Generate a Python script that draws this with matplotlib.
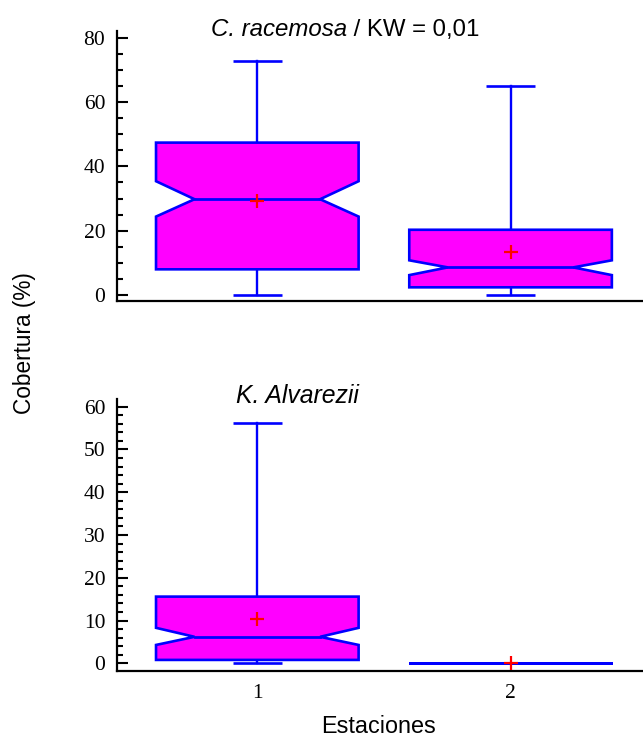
import matplotlib
matplotlib.use("Agg")
import matplotlib.pyplot as plt
from matplotlib.ticker import MultipleLocator

estaciones = [1, 2]
estacion_labels = ["1", "2"]

# C. racemosa: box statistics per station
rac_whislo = [0.0, 0.0]
rac_q1 = [8.0, 2.4]
rac_cilo = [24.4, 6.2]
rac_med = [29.8, 8.6]
rac_cihi = [35.4, 10.8]
rac_q3 = [47.4, 20.3]
rac_whishi = [72.7, 64.9]
rac_mean = [29.2, 13.5]

# K. alvarezii: box statistics per station
alv_whislo = [0.0, 0.0]
alv_q1 = [0.8, 0.0]
alv_cilo = [4.3, 0.0]
alv_med = [6.2, 0.0]
alv_cihi = [8.3, 0.0]
alv_q3 = [15.6, 0.0]
alv_whishi = [56.3, 0.0]
alv_mean = [10.4, 0.0]

BOX_W = 0.80
NOTCH_W = 0.62
CAP_W = 0.195
FILL = "#ff00ff"
EDGE = "#0000ff"
SERIF = "Liberation Serif"
SANS = "Liberation Sans"


def notched_box(ax, pos, whislo, q1, cilo, med, cihi, q3, whishi, mean):
    l, r = pos - BOX_W / 2, pos + BOX_W / 2
    nl, nr = pos - BOX_W * NOTCH_W / 2, pos + BOX_W * NOTCH_W / 2
    xs = [l, r, r, nr, r, r, l, l, nl, l, l]
    ys = [q1, q1, cilo, med, cihi, q3, q3, cihi, med, cilo, q1]
    ax.fill(xs, ys, facecolor=FILL, edgecolor=EDGE, linewidth=1.9, zorder=3)
    ax.plot([nl, nr], [med, med], color=EDGE, lw=2.0, zorder=4)
    # whiskers and caps
    ax.plot([pos, pos], [q3, whishi], color=EDGE, lw=1.7, zorder=2)
    ax.plot([pos, pos], [whislo, q1], color=EDGE, lw=1.7, zorder=2)
    for y in (whislo, whishi):
        ax.plot([pos - CAP_W / 2, pos + CAP_W / 2], [y, y], color=EDGE,
                lw=1.9, zorder=2, solid_capstyle="butt")
    ax.plot(pos, mean, marker="+", color="red", ms=9.5, mew=1.6, zorder=5)


def style_axes(ax, major, minor):
    ax.set_xlim(0.446, 2.523)
    ax.spines["top"].set_visible(False)
    ax.spines["right"].set_visible(False)
    ax.spines["left"].set_linewidth(1.6)
    ax.spines["bottom"].set_linewidth(1.6)
    ax.yaxis.set_major_locator(MultipleLocator(major))
    ax.yaxis.set_minor_locator(MultipleLocator(minor))
    ax.tick_params(axis="y", which="major", direction="in", length=8,
                   width=1.5, pad=8.5, labelsize=15.5)
    ax.tick_params(axis="y", which="minor", direction="in", length=4.3,
                   width=1.5)
    ax.tick_params(axis="x", length=0, pad=9.5, labelsize=15.5)
    ax.set_xticks(estaciones)
    for lab in ax.get_yticklabels() + ax.get_xticklabels():
        lab.set_family(SERIF)


fig = plt.figure(figsize=(6.43, 7.4), dpi=100)
ax1 = fig.add_axes([0.182, 0.5926, 0.818, 0.3659])
ax2 = fig.add_axes([0.182, 0.0936, 0.818, 0.3668])

for i, p in enumerate(estaciones):
    notched_box(ax1, p, rac_whislo[i], rac_q1[i], rac_cilo[i], rac_med[i],
                rac_cihi[i], rac_q3[i], rac_whishi[i], rac_mean[i])
    notched_box(ax2, p, alv_whislo[i], alv_q1[i], alv_cilo[i], alv_med[i],
                alv_cihi[i], alv_q3[i], alv_whishi[i], alv_mean[i])

ax1.set_ylim(-2.0, 82.2)
ax2.set_ylim(-1.73, 61.73)
style_axes(ax1, 20, 5)
style_axes(ax2, 10, 2)
ax1.set_xticklabels([])
ax2.set_xticklabels(estacion_labels)
for lab in ax2.get_xticklabels():
    lab.set_family(SERIF)

# panel titles
t1 = fig.text(211 / 643, 1 - 36 / 740, "C. racemosa", fontsize=17.3,
              family=SANS, style="italic", va="baseline", ha="left")
ax1.annotate(" / KW = 0,01", xy=(1, 0), xycoords=t1, va="bottom",
             ha="left", fontsize=17.3, family=SANS)
fig.text(297 / 643, 1 - 403 / 740, "K. Alvarezii", fontsize=17.8,
         family=SANS, style="italic", va="baseline", ha="center")

fig.text(24 / 643, 1 - 343 / 740, "Cobertura (%)", fontsize=16.3,
         family=SANS, rotation=90, va="center", ha="center")
fig.text(378 / 643, 1 - 733 / 740, "Estaciones", fontsize=16.8, family=SANS,
         va="baseline", ha="center")

fig.savefig("out.png", dpi=100)
